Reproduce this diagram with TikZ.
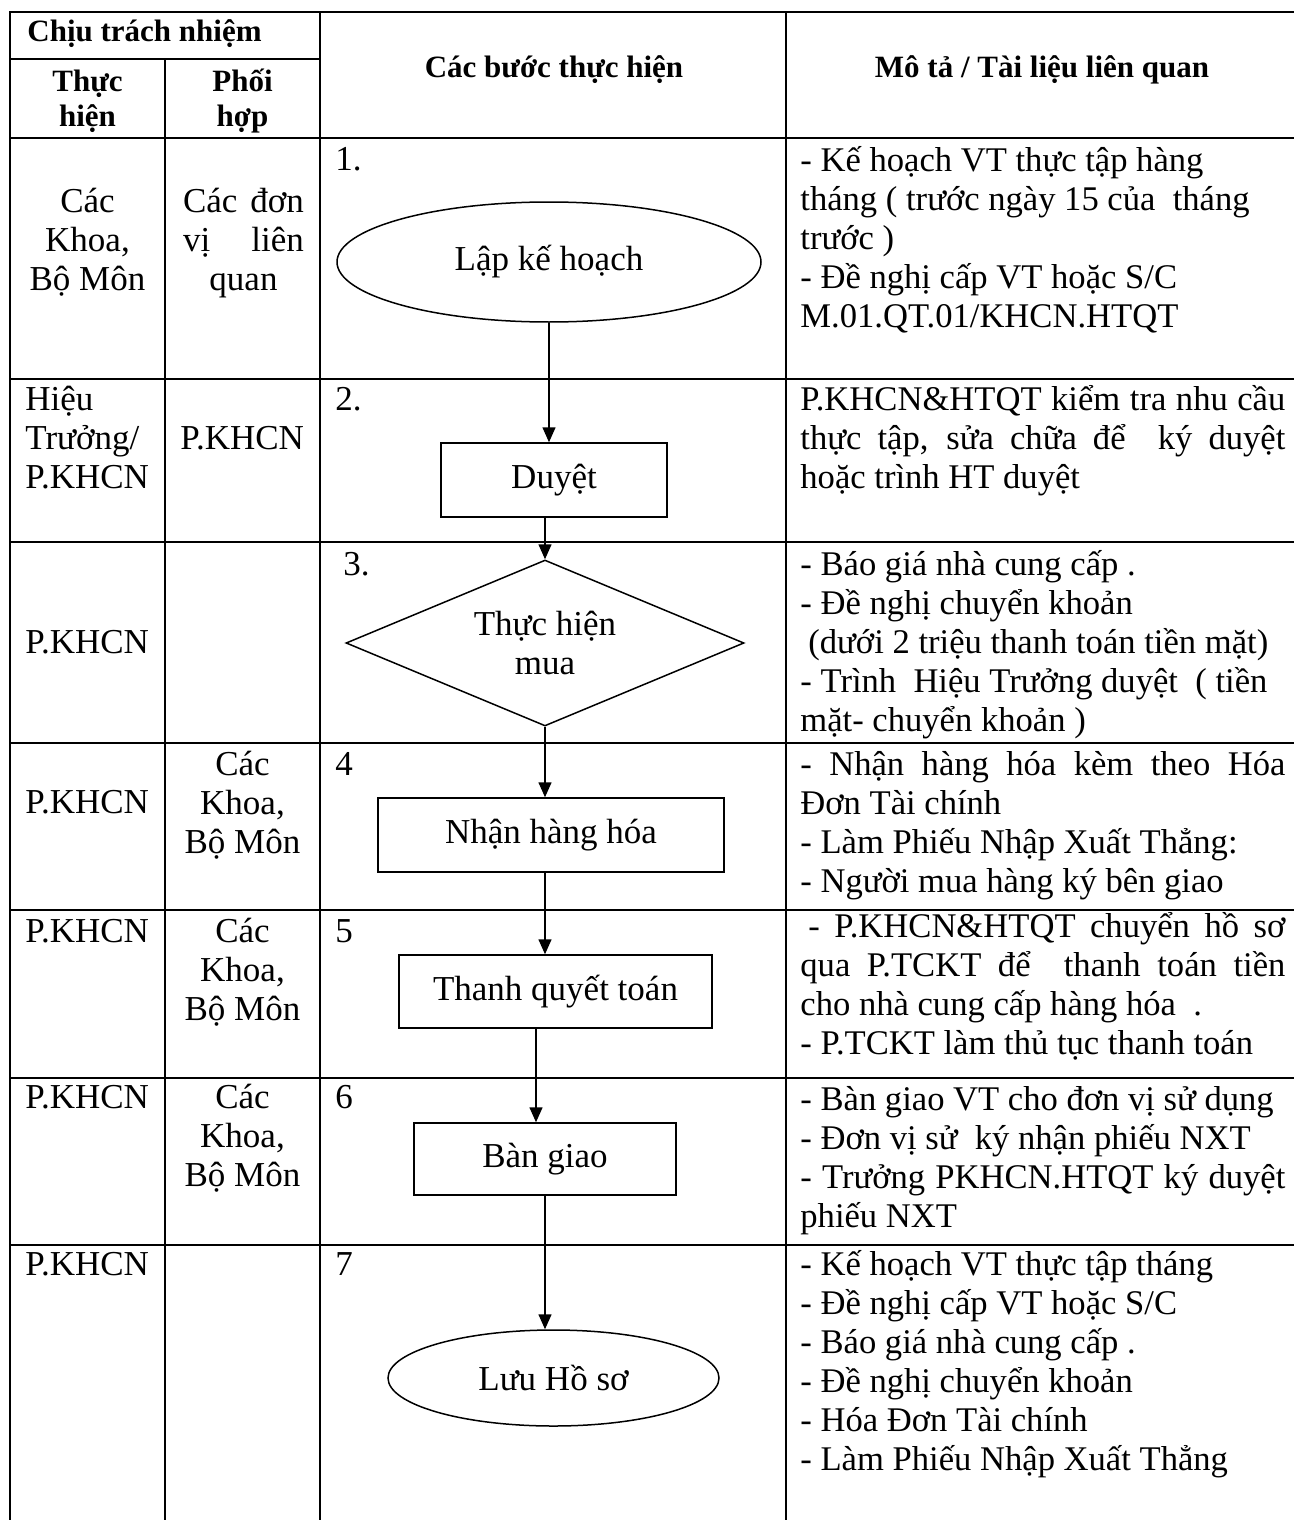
\documentclass[tikz,border=0pt]{standalone}
\usepackage{fontspec}
\setmainfont{Liberation Serif}
\usetikzlibrary{shapes.geometric,arrows.meta}

\newcommand{\bodyfont}{\fontsize{17.5}{19.5}\selectfont}
\newcommand{\descfont}{\fontsize{17.3}{19.5}\selectfont}
\newcommand{\headfont}{\fontsize{15.5}{17.5}\selectfont\bfseries}
\newcommand{\lnstrut}{\rule{0pt}{17pt}}
\newcommand{\jl}[1]{\makebox[242.5pt][s]{#1}}
\newcommand{\jcell}[1]{\makebox[60.5pt][s]{#1}}

\tikzset{
  grid/.style={line width=1.15pt, line cap=rect},
  stepshape/.style={draw, line width=0.75pt, font=\bodyfont, inner sep=0pt, align=center},
  flow/.style={line width=0.75pt, -{Triangle[length=7.5pt,width=6.5pt]}},
  desc/.style={anchor=north west, inner sep=0pt, align=left, font=\descfont},
  cell/.style={inner sep=0pt, font=\bodyfont},
  headcell/.style={inner sep=0pt, font=\headfont},
}

\begin{document}
\begin{tikzpicture}[x=0.5pt,y=-0.5pt]
  \useasboundingbox (0,0) rectangle (1294,1520);
  %% Table
  \draw[grid] (10,12) -- (1294,12);
  \draw[grid] (10,59) -- (320,59);
  \foreach \y in {138,379,542,743,910,1078,1245}
    \draw[grid] (10,\y) -- (1294,\y);
  \draw[grid] (10,12) -- (10,1520);
  \draw[grid] (165,59) -- (165,1520);
  \draw[grid] (320,12) -- (320,1520);
  \draw[grid] (786,12) -- (786,1520);

  %% Header
  \node[headcell, anchor=base west] (resp) at (27,42) {Chịu trách nhiệm};
  \node[headcell, anchor=north, align=center] (doer) at (87.5,57) {\lnstrut Thực\\hiện};
  \node[headcell, anchor=north, align=center] (coop) at (242.5,57) {\lnstrut Phối\\hợp};
  \node[headcell, anchor=base] (steps) at (554,78) {Các bước thực hiện};
  \node[headcell, anchor=base] (docs) at (1042,78) {Mô tả / Tài liệu liên quan};

  %% Row 1
  \node[cell, anchor=north, align=center] (r1do) at (87.5,178) {\lnstrut Các\\Khoa,\\Bộ Môn};
  \node[cell, anchor=north, align=center] (r1co) at (243.5,178) {\lnstrut\jcell{Các đơn}\\\jcell{vị liên}\\quan};
  \node[cell, anchor=base west] (n1) at (335,170) {1.};
  \node[stepshape, ellipse, minimum width=212pt, minimum height=60pt] (plan) at (549,262) {Lập kế hoạch};
  \node[desc] (d1) at (800,137) {\lnstrut- Kế hoạch VT thực tập hàng\\
    tháng ( trước ngày 15 của~ tháng\\
    trước )\\
    - Đề nghị cấp VT hoặc S/C\\
    M.01.QT.01/KHCN.HTQT};

  %% Row 2
  \node[cell, anchor=north west, align=left] (r2do) at (25,376) {\lnstrut Hiệu\\Trưởng/\\P.KHCN};
  \node[cell, anchor=base west] (r2co) at (180,449) {P.KHCN};
  \node[cell, anchor=base west] (n2) at (335,410) {2.};
  \node[stepshape, minimum width=113pt, minimum height=37pt] (approve) at (554,480) {Duyệt};
  \node[desc] (d2) at (800,376) {\lnstrut\jl{P.KHCN\&HTQT kiểm tra nhu cầu}\\
    \jl{thực tập, sửa chữa để~ ký duyệt}\\
    hoặc trình HT duyệt};

  %% Row 3
  \node[cell, anchor=base west] (r3do) at (25,653) {P.KHCN};
  \node[cell, anchor=base west] (n3) at (343,575) {3.};
  \node[stepshape, diamond, shape aspect=2.4, minimum width=199pt, minimum height=83pt] (buy) at (545,643) {Thực hiện\\mua};
  \node[desc] (d3) at (800,541) {\lnstrut- Báo giá nhà cung cấp .\\
    - Đề nghị chuyển khoản\\
    \hspace*{4pt}(dưới 2 triệu thanh toán tiền mặt)\\
    - Trình~ Hiệu Trưởng duyệt~ ( tiền\\
    mặt- chuyển khoản )};

  %% Row 4
  \node[cell, anchor=base west] (r4do) at (25,813) {P.KHCN};
  \node[cell, anchor=north, align=center] (r4co) at (242.5,741) {\lnstrut Các\\Khoa,\\Bộ Môn};
  \node[cell, anchor=base west] (n4) at (335,775) {4};
  \node[stepshape, minimum width=173pt, minimum height=37pt] (receive) at (551,835) {Nhận hàng hóa};
  \node[desc] (d4) at (800,741) {\lnstrut\jl{- Nhận hàng hóa kèm theo Hóa}\\
    Đơn Tài chính\\
    - Làm Phiếu Nhập Xuất Thẳng:\\
    - Người mua hàng ký bên giao};

  %% Row 5
  \node[cell, anchor=base west] (r5do) at (25,942) {P.KHCN};
  \node[cell, anchor=north, align=center] (r5co) at (242.5,908) {\lnstrut Các\\Khoa,\\Bộ Môn};
  \node[cell, anchor=base west] (n5) at (335,942) {5};
  \node[stepshape, minimum width=156.5pt, minimum height=36.5pt] (settle) at (555.5,991.5) {Thanh quyết toán};
  \node[desc] (d5) at (800,903) {\lnstrut\jl{\hspace*{4pt}- P.KHCN\&HTQT chuyển hồ sơ}\\
    \jl{qua P.TCKT để~ thanh toán tiền}\\
    cho nhà cung cấp hàng hóa~ .\\
    - P.TCKT làm thủ tục thanh toán};

  %% Row 6
  \node[cell, anchor=base west] (r6do) at (25,1108) {P.KHCN};
  \node[cell, anchor=north, align=center] (r6co) at (242.5,1074) {\lnstrut Các\\Khoa,\\Bộ Môn};
  \node[cell, anchor=base west] (n6) at (335,1108) {6};
  \node[stepshape, minimum width=131pt, minimum height=36pt] (handover) at (545,1159) {Bàn giao};
  \node[desc] (d6) at (800,1076) {\lnstrut- Bàn giao VT cho đơn vị sử dụng\\
    - Đơn vị sử~ ký nhận phiếu NXT\\
    \jl{- Trưởng PKHCN.HTQT ký duyệt}\\
    phiếu NXT};

  %% Row 7
  \node[cell, anchor=base west] (r7do) at (25,1275) {P.KHCN};
  \node[cell, anchor=base west] (n7) at (335,1275) {7};
  \node[stepshape, ellipse, minimum width=165.5pt, minimum height=48pt] (archive) at (553.5,1378) {Lưu Hồ sơ};
  \node[desc] (d7) at (800,1241) {\lnstrut- Kế hoạch VT thực tập tháng\\
    - Đề nghị cấp VT hoặc S/C\\
    - Báo giá nhà cung cấp .\\
    - Đề nghị chuyển khoản\\
    - Hóa Đơn Tài chính\\
    - Làm Phiếu Nhập Xuất Thẳng};

  %% Flow
  \draw[flow] (plan.south) -- (plan.south |- approve.north);
  \draw[flow] (approve.south -| buy.north) -- (buy.north);
  \draw[flow] (buy.south) -- (buy.south |- receive.north);
  \draw[flow] ([xshift=-3pt]receive.south) -- ([xshift=-3pt]receive.south |- settle.north);
  \draw[flow] ([xshift=-9.75pt]settle.south) -- ([xshift=-9.75pt]settle.south |- handover.north);
  \draw[flow] (handover.south) -- (handover.south |- archive.north);
\end{tikzpicture}
\end{document}
